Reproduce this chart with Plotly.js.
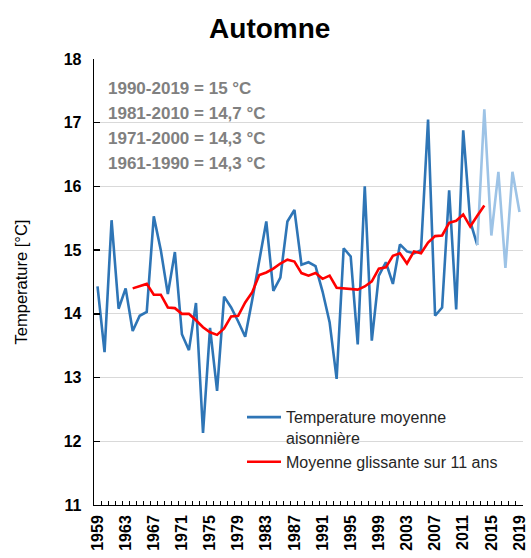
<!DOCTYPE html>
<html>
<head>
<meta charset="utf-8">
<script src="https://cdn.plot.ly/plotly-3.0.1.min.js"></script>
<style>
html,body{margin:0;padding:0;background:#fff;}
#chart{width:531px;height:558px;}
</style>
</head>
<body>
<div id="chart"></div>
<script>
// ---- data ----
const years = [1959,1960,1961,1962,1963,1964,1965,1966,1967,1968,1969,1970,1971,1972,1973,1974,1975,1976,1977,1978,1979,1980,1981,1982,1983,1984,1985,1986,1987,1988,1989,1990,1991,1992,1993,1994,1995,1996,1997,1998,1999,2000,2001,2002,2003,2004,2005,2006,2007,2008,2009,2010,2011,2012,2013];
const tempSeason = [14.43,13.40,15.47,14.08,14.40,13.73,13.97,14.03,15.53,15.00,14.31,14.97,13.68,13.43,14.17,12.13,13.78,12.79,14.27,14.10,13.88,13.64,14.22,14.82,15.45,14.36,14.57,15.45,15.63,14.77,14.81,14.75,14.35,13.87,12.98,15.03,14.90,13.52,16.00,13.58,14.60,14.81,14.47,15.09,14.98,14.95,15.00,17.05,13.97,14.10,15.94,14.07,16.88,15.45,15.08];

const yearsRecent = [2013,2014,2015,2016,2017,2018,2019];
const tempRecent = [15.08,17.21,15.23,16.23,14.72,16.23,15.60];

const yearsMA = [1964,1965,1966,1967,1968,1969,1970,1971,1972,1973,1974,1975,1976,1977,1978,1979,1980,1981,1982,1983,1984,1985,1986,1987,1988,1989,1990,1991,1992,1993,1994,1995,1996,1997,1998,1999,2000,2001,2002,2003,2004,2005,2006,2007,2008,2009,2010,2011,2012,2013,2014];
const movingAvg = [14.40,14.44,14.47,14.30,14.30,14.10,14.09,14.00,14.00,13.90,13.79,13.71,13.67,13.77,13.96,13.97,14.18,14.34,14.61,14.65,14.71,14.79,14.85,14.82,14.64,14.60,14.64,14.55,14.60,14.41,14.40,14.39,14.38,14.43,14.51,14.71,14.73,14.91,14.95,14.79,14.98,14.95,15.12,15.22,15.23,15.43,15.46,15.56,15.37,15.54,15.70];

const labelYears = [1959,1963,1967,1971,1975,1979,1983,1987,1991,1995,1999,2003,2007,2011,2015,2019];
const normals = ["1990-2019 = 15 °C","1981-2010 = 14,7 °C","1971-2000 = 14,3 °C","1961-1990 = 14,3 °C"];

const nameSeason = "Temperature moyenne<br>aisonnière";
const nameMA = "Moyenne glissante sur 11 ans";

// ---- chart ----
const FONT = "'Liberation Sans', Arial, sans-serif";
const firstYear = years[0], lastYear = yearsRecent[yearsRecent.length-1];
const boundaries = [];
for (let y = firstYear - 0.5; y <= lastYear + 0.5; y += 1) boundaries.push(y);

const traces = [
  {x: years, y: tempSeason, type: 'scatter', mode: 'lines', name: nameSeason,
   line: {color: '#2e75b6', width: 2.6}},
  {x: yearsRecent, y: tempRecent, type: 'scatter', mode: 'lines', showlegend: false,
   line: {color: '#9dc3e6', width: 2.6}},
  {x: yearsMA, y: movingAvg, type: 'scatter', mode: 'lines', name: nameMA,
   line: {color: '#ff0000', width: 2.6}},
  {x: [labelYears[0]], y: [11], xaxis: 'x2', type: 'scatter', mode: 'markers',
   marker: {opacity: 0}, showlegend: false, hoverinfo: 'skip'}
];

const annotations = normals.map((t, i) => ({
  text: t, xref: 'paper', yref: 'paper', x: 0.028, y: 0.933 - i * 0.056,
  xanchor: 'left', yanchor: 'middle', showarrow: false,
  font: {family: FONT, size: 17, color: '#808080', weight: 'bold'}
}));

const layout = {
  width: 531, height: 558,
  margin: {l: 94, r: 8, t: 59, b: 53},
  paper_bgcolor: '#fff', plot_bgcolor: '#fff',
  font: {family: FONT, color: '#000'},
  title: {text: '<b>Automne</b>', x: 0.508, xref: 'container', y: 0.95, yref: 'container',
          yanchor: 'middle', font: {family: FONT, size: 28, color: '#000'}},
  xaxis: {
    type: 'linear', range: [firstYear - 0.5, lastYear + 0.5],
    tickmode: 'array', tickvals: boundaries, ticktext: boundaries.map(() => ''),
    ticks: 'inside', ticklen: 4, tickcolor: '#000', tickwidth: 1,
    showline: true, linecolor: '#000', linewidth: 1.3, showgrid: false, zeroline: false,
    mirror: false
  },
  xaxis2: {
    overlaying: 'x', anchor: 'y', side: 'bottom', matches: 'x',
    range: [firstYear - 0.5, lastYear + 0.5],
    tickmode: 'array', tickvals: labelYears, ticktext: labelYears.map(String),
    ticks: '', tickangle: -90, showgrid: false, showline: false, zeroline: false,
    ticklabelstandoff: 6,
    tickfont: {family: FONT, size: 16, color: '#000', weight: 'bold'}
  },
  yaxis: {
    range: [11, 18], dtick: 1, tick0: 11,
    ticks: 'inside', ticklen: 6, tickcolor: '#000', tickwidth: 1.3,
    showline: true, linecolor: '#000', linewidth: 1.3,
    showgrid: true, gridcolor: '#d9d9d9', gridwidth: 1, zeroline: false,
    ticklabelstandoff: 8,
    tickfont: {family: FONT, size: 16, color: '#000', weight: 'bold'},
    title: {text: 'Temperature [°C]', standoff: 32, font: {family: FONT, size: 16.5, color: '#000'}}
  },
  legend: {
    x: 0.345, y: 0.235, xanchor: 'left', yanchor: 'top', valign: 'top',
    bgcolor: 'rgba(0,0,0,0)', borderwidth: 0,
    font: {family: FONT, size: 16, color: '#262626'},
    tracegroupgap: 0, itemwidth: 34
  },
  annotations: annotations,
  showlegend: true
};

Plotly.newPlot('chart', traces, layout, {staticPlot: true, displayModeBar: false});
</script>
</body>
</html>
